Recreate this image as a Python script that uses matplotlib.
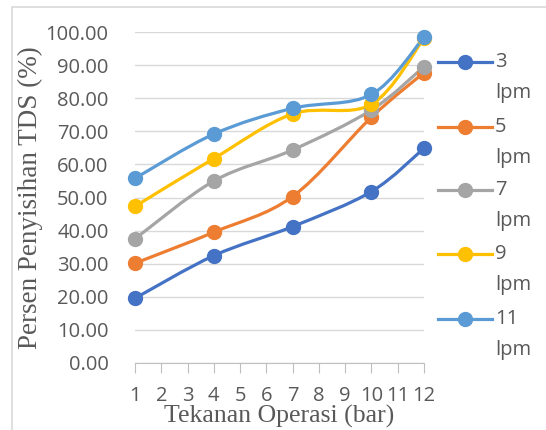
import numpy as np
import matplotlib
matplotlib.use('Agg')
import matplotlib.pyplot as plt
from matplotlib.path import Path
from matplotlib.patches import PathPatch, Rectangle
from matplotlib.lines import Line2D

# data
tekanan = [1, 4, 7, 10, 12]
laju = ['3', '5', '7', '9', '11']
tds = {
    '3': [19.5, 32.4, 41.2, 51.8, 64.9],
    '5': [30.1, 39.5, 50.3, 74.3, 87.8],
    '7': [37.5, 55.0, 64.4, 76.5, 89.6],
    '9': [47.3, 61.8, 75.3, 78.2, 98.2],
    '11': [55.8, 69.2, 77.0, 81.2, 98.5],
}
colors = ['#4472C4', '#ED7D31', '#A5A5A5', '#FFC000', '#5B9BD5']
yticks = np.arange(0, 101, 10)
xticks = np.arange(1, 13)

sans = ['Open Sans', 'DejaVu Sans']
serif = 'Liberation Serif'
grey = '#595959'
fs = 14.5


def smooth_path(x, y):
    # excel style smoothed line (bezier through the points)
    p = np.column_stack([x, y]).astype(float)
    n = len(p)
    verts = [p[0]]
    codes = [Path.MOVETO]
    for i in range(n - 1):
        p0 = p[i - 1] if i > 0 else p[i]
        p3 = p[i + 2] if i + 2 < n else p[i + 1]
        c1 = p[i] + (p[i + 1] - p0) / 6
        c2 = p[i + 1] - (p3 - p[i]) / 6
        verts += [c1, c2, p[i + 1]]
        codes += [Path.CURVE4] * 3
    return Path(verts, codes)


fig = plt.figure(figsize=(5.46, 4.30), dpi=100)
fig.patch.set_facecolor('white')
fig.add_artist(Rectangle((12 / 546, -0.1), 1.0, 1 - 7 / 430 + 0.1,
                         transform=fig.transFigure, fill=False,
                         edgecolor='#d9d9d9', linewidth=1.2))

ax = fig.add_axes([135 / 546, 1 - 362.7 / 430, (424 - 135) / 546, (362.7 - 32.3) / 430])

for name, c in zip(laju, colors):
    ax.add_patch(PathPatch(smooth_path(tekanan, tds[name]), fill=False,
                           edgecolor=c, linewidth=2.3, zorder=3,
                           capstyle='round'))
    ax.plot(tekanan, tds[name], linestyle='none', marker='o', markersize=10,
            color=c, zorder=4, clip_on=False)

ax.set_xlim(1, 12)
ax.set_ylim(0, 100)
ax.set_yticks(yticks)
ax.set_yticklabels(['%.2f' % v for v in yticks], fontfamily=sans, fontsize=fs, color=grey)
ax.set_xticks(xticks)
ax.set_xticklabels([str(v) for v in xticks], fontfamily=sans, fontsize=fs, color=grey)
ax.grid(axis='y', color='#d9d9d9', linewidth=1)
ax.set_axisbelow(True)
for s in ['top', 'right', 'left']:
    ax.spines[s].set_visible(False)
ax.spines['bottom'].set_color('#bfbfbf')
ax.tick_params(axis='y', length=0, pad=19)
ax.tick_params(axis='x', direction='out', length=7, color='#bfbfbf', pad=10)

ax.set_xlabel('Tekanan Operasi (bar)', fontfamily=serif, fontsize=18.5, color=grey, labelpad=-1)
ax.set_ylabel('Persen Penyisihan TDS (%)', fontfamily=serif, fontsize=19.5, color=grey, labelpad=2)

# legend on the right
rows = [62, 127, 190, 254, 319]
for name, c, yy in zip(laju, colors, rows):
    yf = 1 - yy / 430
    fig.add_artist(Line2D([438 / 546, 492 / 546], [yf, yf], color=c, linewidth=2.3,
                          transform=fig.transFigure))
    fig.add_artist(Line2D([465 / 546], [yf], marker='o', markersize=10, color=c,
                          transform=fig.transFigure))
    fig.text(495 / 546, yf, name, fontfamily=sans, fontsize=fs, color=grey,
             va='center', ha='left')
    fig.text(495 / 546, 1 - (yy + 31) / 430, 'lpm', fontfamily=sans, fontsize=fs,
             color=grey, va='center', ha='left')

fig.savefig('out.png', dpi=100)
